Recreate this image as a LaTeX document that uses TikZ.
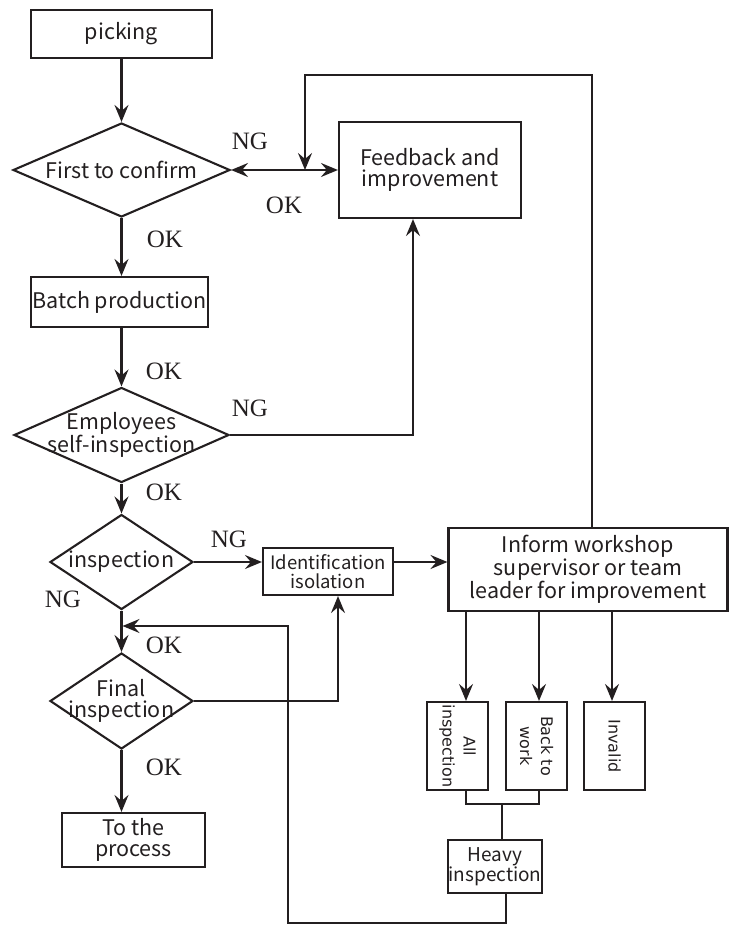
\documentclass[tikz,border=0pt]{standalone}
\usepackage{fontspec}
\setmainfont{Noto Sans CJK SC}
\newfontfamily\tagfont{Liberation Serif}
\newfontfamily\sidefont{DejaVu Sans}
\usepackage{tikz}
\usetikzlibrary{arrows.meta}
\usetikzlibrary{shapes.geometric}
\definecolor{ink}{RGB}{35,31,32}

\begin{document}
\begin{tikzpicture}[x=1pt, y=-1pt, line width=2.1pt, color=ink,
  >={Stealth[length=17pt,width=14pt,inset=6pt]},
  box/.style={draw, rectangle, inner sep=0pt, align=center, font=\fontsize{21.5}{21}\selectfont},
  decision/.style={draw, diamond, inner sep=-8pt, align=center, font=\fontsize{21.5}{21}\selectfont},
  sidebox/.style={draw, rectangle, rotate=-90, inner sep=0pt, align=center, minimum width=88, minimum height=61, font=\sidefont\fontsize{16}{21}\selectfont},
  tag/.style={inner sep=0pt, font=\tagfont\fontsize{25}{25}\selectfont}]

\useasboundingbox (0,0) rectangle (729,925);

% main column
\node[box, minimum width=181, minimum height=48] (picking) at (121.5,34) {picking};
\node[decision, minimum width=217, minimum height=94, shape aspect=2.3] (confirm) at (121.5,170) {First to confirm};
\node[box, minimum width=177, minimum height=50] (batch) at (119.5,302) {Batch production};
\node[decision, minimum width=215, minimum height=95, shape aspect=2.26] (selfcheck) at (121.5,435) {Employees\\self-inspection};
\node[decision, minimum width=143, minimum height=95, shape aspect=1.5] (inspect) at (121.5,562) {inspection};
\node[decision, minimum width=143, minimum height=96, shape aspect=1.5] (final) at (121.5,701) {Final\\inspection};
\node[box, minimum width=143, minimum height=54] (output) at (133.5,840) {To the\\process};

% right side
\node[box, minimum width=182, minimum height=96] (feedback) at (430,170) {Feedback and\\improvement};
\node[box, minimum width=130, minimum height=47, font=\fontsize{18.5}{19.5}\selectfont] (isolate) at (328,571.5) {Identification\\isolation};
\node[box, minimum width=279, minimum height=83] (inform) at (588,569.5) {Inform workshop\\supervisor or team\\leader for improvement};
\node[sidebox] (allcheck) at (457.5,746) {All\\inspection};
\node[sidebox] (rework) at (536.5,746) {Back to\\work};
\node[sidebox] (invalid) at (614.5,746) {Invalid};
\node[box, minimum width=94, minimum height=53, font=\fontsize{19}{20}\selectfont] (heavy) at (495,866.5) {Heavy\\inspection};

% OK / NG
\node[tag] (ngfirst) at (250,141) {NG};
\node[tag] (okfirst) at (284,205) {OK};
\node[tag] (okbatch) at (165,239) {OK};
\node[tag] (okself) at (164,371) {OK};
\node[tag] (ngself) at (250,408) {NG};
\node[tag] (okinsp) at (164,492) {OK};
\node[tag] (nginsp) at (229,539) {NG};
\node[tag] (ngleft) at (63,599) {NG};
\node[tag] (okfinal) at (164,645) {OK};
\node[tag] (okout) at (164,767) {OK};

\coordinate (looptop) at (592,75);
\coordinate (loopin) at (305,170);
\coordinate (riser) at (413,0);
\coordinate (uplink) at (338,0);
\coordinate (colA) at (466,0);
\coordinate (colB) at (539,0);
\coordinate (colC) at (612,0);
\coordinate (merge) at (502,804);
\coordinate (bottomx) at (288,923);
\coordinate (rejoin) at (122.5,626);

\draw[->] (picking) -- (confirm);
\draw[<->] (confirm.east) -- (feedback.west);
\draw[->] (inform.north -| looptop) -- (looptop) -| (loopin);
\draw[->] (confirm.south) -- (confirm.south |- batch.north);
\draw[->] (selfcheck.north |- batch.south) -- (selfcheck.north);
\draw[->] (selfcheck.east) -| (riser |- feedback.south);
\draw[->] (selfcheck.south) -- (inspect.north);
\draw[->] (inspect.east) -- (inspect.east -| isolate.west);
\draw[->] (isolate.east |- inspect.east) -- (inform.west |- inspect.east);
\draw[->] (inspect.south) -- (final.north);
\draw[->] (final.east) -| (isolate.south -| uplink);
\draw[->] (final.south) -- (final.south |- output.north);

\draw[->] (inform.south -| colA) -- (allcheck.west -| colA);
\draw[->] (inform.south -| colB) -- (rework.west -| colB);
\draw[->] (inform.south -| colC) -- (invalid.west -| colC);
\draw (allcheck.east -| colA) |- (merge -| colB) -- (rework.east -| colB);
\draw (merge) -- (merge |- heavy.north);
\draw[->] ([xshift=11pt]heavy.south) |- (bottomx) |- (rejoin);

\end{tikzpicture}
\end{document}
